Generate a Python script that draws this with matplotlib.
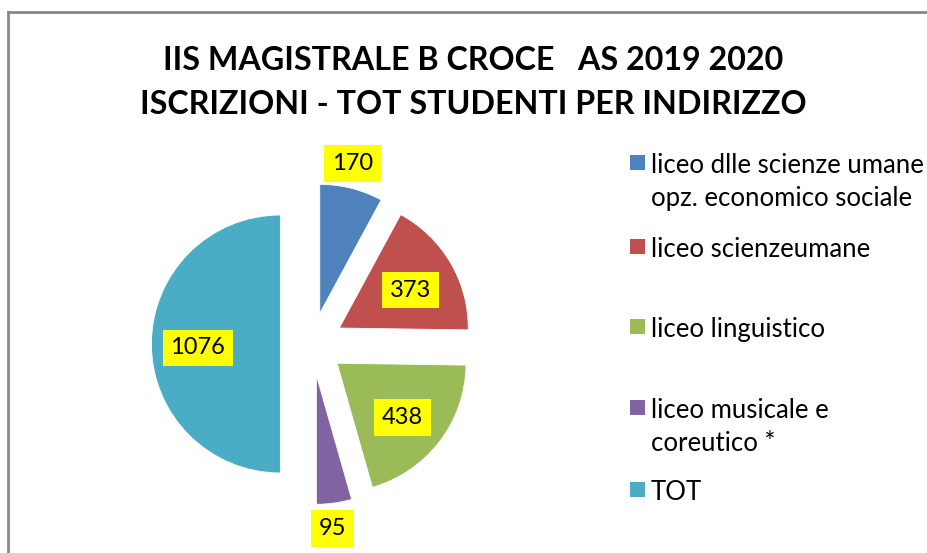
import numpy as np
import matplotlib
matplotlib.use("Agg")
import matplotlib.pyplot as plt
from matplotlib.patches import Rectangle
from matplotlib.lines import Line2D

categories = ["liceo dlle scienze umane\nopz. economico sociale",
              "liceo scienzeumane",
              "liceo linguistico",
              "liceo musicale e\ncoreutico *",
              "TOT"]
values = [170, 373, 438, 95, 1076]
colors = ["#4F81BD", "#C0504D", "#9BBB59", "#8064A2", "#4BACC6"]
title_lines = ["IIS MAGISTRALE B CROCE   AS 2019 2020",
               "ISCRIZIONI - TOT STUDENTI PER INDIRIZZO"]

W, H = 927, 553
fig = plt.figure(figsize=(W / 100, H / 100), dpi=100)
FONT = ["Lato", "DejaVu Sans"]

# border
fig.add_artist(Line2D([8 / W, 8 / W], [0, 1 - 12 / H], transform=fig.transFigure,
                      color="#888888", lw=2))
fig.add_artist(Line2D([8 / W, 1], [1 - 12 / H, 1 - 12 / H], transform=fig.transFigure,
                      color="#888888", lw=2))

# title
fig.text(473 / W, 1 - 60 / H, title_lines[0], ha="center", va="center",
         fontsize=23.2, fontweight="bold", family=FONT)
fig.text(473 / W, 1 - 105 / H, title_lines[1], ha="center", va="center",
         fontsize=23.2, fontweight="bold", family=FONT)

# pie axes: centre at pixel (312, 344), radius ~129 px
R_PX = 129.0
cx, cy = 312, 344
half = 200
ax = fig.add_axes([(cx - half) / W, (H - cy - half) / H, 2 * half / W, 2 * half / H])

explode = [0.245] * len(values)
wedges, _ = ax.pie(values, colors=colors, startangle=90, counterclock=False,
                   explode=explode, radius=1.0, center=(0, 0),
                   wedgeprops=dict(edgecolor="white", linewidth=0.6))
lim = half / R_PX
ax.set_xlim(-lim, lim)
ax.set_ylim(-lim, lim)
ax.set_aspect("equal")
ax.axis("off")

total = sum(values)
for w, v in zip(wedges, values):
    ang = np.deg2rad((w.theta1 + w.theta2) / 2)
    ccx, ccy = w.center
    frac = v / total
    if frac > 0.1:
        d = 0.64
        x = ccx + d * np.cos(ang)
        y = ccy + d * np.sin(ang) - 0.03
    else:
        d = 1.2
        x = ccx + d * np.cos(ang) - 0.04
        y = ccy + d * np.sin(ang)
    ax.text(x, y, str(v), ha="center", va="center", fontsize=17, family=FONT,
            color="black",
            bbox=dict(boxstyle="square,pad=0.33", facecolor="#FFFF00", edgecolor="none"))

# legend (manual, Excel-like spacing)
leg_y = [163, 247, 327, 408, 490]
for lab, col, y in zip(categories, colors, leg_y):
    fig.add_artist(Rectangle((630 / W, 1 - (y + 7) / H), 15 / W, 15 / H,
                             transform=fig.transFigure, facecolor=col, edgecolor="none"))
    fig.text(651 / W, 1 - (y - 10) / H, lab, ha="left", va="top", fontsize=18.5,
             family=FONT, linespacing=1.38)

fig.savefig("out.png", dpi=100)
